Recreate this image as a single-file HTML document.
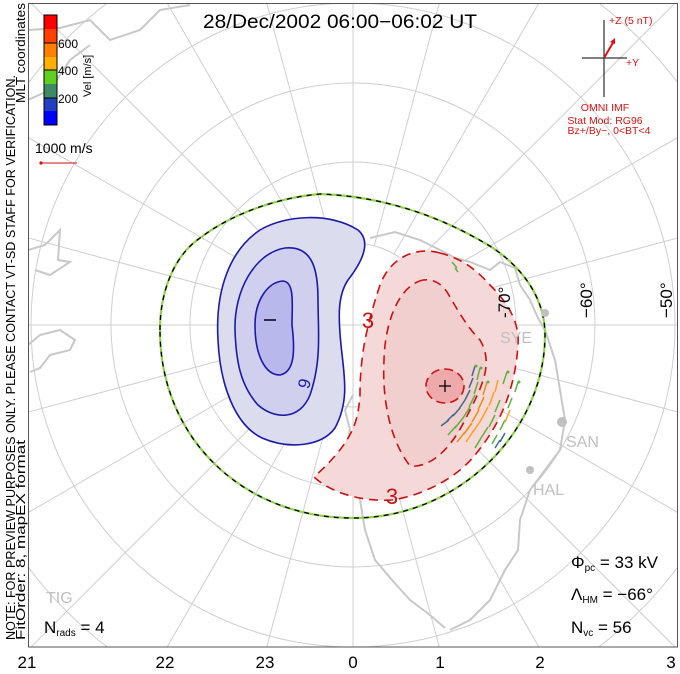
<!DOCTYPE html>
<html><head><meta charset="utf-8"><style>
html,body{margin:0;padding:0;background:#fff;overflow:hidden;width:680px;height:674px;}
svg{display:block;}
text{font-family:"Liberation Sans","DejaVu Sans",sans-serif;}
</style></head><body>
<svg width="680" height="674" viewBox="0 0 680 674" xmlns="http://www.w3.org/2000/svg">
<defs><clipPath id="c"><rect x="28" y="3" width="650" height="644"/></clipPath></defs>
<rect width="680" height="674" fill="#fff"/>
<g clip-path="url(#c)">
 <g stroke="#cfcfcf" stroke-width="1">
  <g transform="rotate(15 353 325)"><line x1="353" y1="-500" x2="353" y2="1150"/><line x1="-500" y1="325" x2="1200" y2="325"/></g>
  <g transform="rotate(30 353 325)"><line x1="353" y1="-500" x2="353" y2="1150"/><line x1="-500" y1="325" x2="1200" y2="325"/></g>
  <g transform="rotate(45 353 325)"><line x1="353" y1="-500" x2="353" y2="1150"/><line x1="-500" y1="325" x2="1200" y2="325"/></g>
  <g transform="rotate(60 353 325)"><line x1="353" y1="-500" x2="353" y2="1150"/><line x1="-500" y1="325" x2="1200" y2="325"/></g>
  <g transform="rotate(75 353 325)"><line x1="353" y1="-500" x2="353" y2="1150"/><line x1="-500" y1="325" x2="1200" y2="325"/></g>
 </g>
 <circle cx="353" cy="325" r="82" fill="#fff"/>
 <g stroke="#cfcfcf" stroke-width="1">
  <line x1="353" y1="-500" x2="353" y2="1150"/>
  <line x1="-500" y1="325" x2="1200" y2="325"/>
 </g>
 <g fill="none" stroke="#cfcfcf" stroke-width="1">
  <circle cx="353" cy="325" r="82"/>
  <circle cx="353" cy="325" r="163"/>
  <circle cx="353" cy="325" r="242"/>
  <circle cx="353" cy="325" r="322"/>
  <circle cx="353" cy="325" r="405"/>
 </g>
 <g fill="none" stroke="#c8c8c8" stroke-width="2">
  <path d="M28,30 L60,28 L90,20 L110,40 L140,30 L160,10 L190,5"/>
  <path d="M28,250 L45,245 L60,230 L58,260 L70,262 L50,275 L35,270"/>
  <path d="M28,100 L50,90 L70,60 L90,45"/>
  <path d="M370,238 L395,232 L420,240 L440,250 L455,258 L470,262 L490,270 L500,262 L515,268 L520,285 L530,300 L538,318 L545,330 L555,360 L560,390 L565,420 L560,450 L545,470 L530,490 L520,520 L518,550 L505,570 L490,600 L470,620 L450,630"/>
  <path d="M353,395 L345,410 L350,430 L345,450 L352,480 L360,500 L365,530 L375,560 L392,580 L410,600 L430,615 L445,628"/>
  <path d="M28,345 L40,335 L60,330 L75,340 L70,350 L50,355 L40,368 L30,372"/>
 </g>
 <path d="M160,330 C160,290 175,255 200,238 C230,215 275,198 320,194 C380,196 440,215 493,248 C525,270 545,300 545,335 C545,430 460,518 353,518 C245,518 160,440 160,330 Z" fill="none" stroke="#8fd44a" stroke-width="2.2"/>
 <path d="M160,330 C160,290 175,255 200,238 C230,215 275,198 320,194 C380,196 440,215 493,248 C525,270 545,300 545,335 C545,430 460,518 353,518 C245,518 160,440 160,330 Z" fill="none" stroke="#000" stroke-width="1.3" stroke-dasharray="5 5"/>
 <path d="M218,340 C215,290 230,250 260,230 C285,215 330,212 358,230 C372,242 362,262 348,280 C338,295 338,315 341,345 C344,375 350,400 335,428 C322,446 290,450 262,438 C235,425 220,385 218,340 Z" fill="#dcdcef" stroke="#1a1aaa" stroke-width="1.6"/>
 <path d="M235,330 C234,290 255,253 285,248 C315,245 318,275 318,300 C318,330 322,360 310,395 C300,420 275,420 258,405 C240,385 236,360 235,330 Z" fill="#d0d0ee" stroke="#1a1aaa" stroke-width="1.6"/>
 <path d="M255,325 C255,300 268,282 283,281 C295,282 292,305 292,325 C295,350 295,372 280,375 C265,375 255,355 255,325 Z" fill="#b8b8ec" stroke="#1a1aaa" stroke-width="1.6"/>
 <line x1="264" y1="320" x2="276" y2="320" stroke="#000" stroke-width="1.5"/>
 <text x="310" y="385" font-size="17" fill="#1a1aaa" transform="rotate(-75 310 385)" text-anchor="middle">9</text>
 <path d="M440,253 C415,246 390,258 380,285 C365,330 360,360 360,395 C358,420 355,440 314,477 C330,492 360,502 392,500 C420,496 455,480 475,455 C500,425 515,390 518,345 C520,320 505,300 490,285 C475,268 460,258 440,253 Z" fill="#f5d8d8" stroke="#cc1111" stroke-width="1.6" stroke-dasharray="9 6"/>
 <path d="M423,280 C400,285 385,320 384,360 C382,400 390,440 410,466 C430,468 450,450 465,420 C480,390 495,365 480,340 C465,325 455,305 447,292 C440,282 432,279 423,280 Z" fill="#f2cfcf" stroke="#cc1111" stroke-width="1.6" stroke-dasharray="9 6"/>
 <ellipse cx="445" cy="386" rx="19" ry="17" fill="#eeaaaa" stroke="#cc1111" stroke-width="1.6" stroke-dasharray="9 5"/>
 <path d="M439,386 h12 M445,380 v12" stroke="#000" stroke-width="1.3"/>
 <text x="368" y="328" font-size="22" fill="#cc1111" text-anchor="middle">3</text>
 <text x="392" y="504" font-size="22" fill="#cc1111" text-anchor="middle">3</text>
 <g stroke-width="1.5" fill="none">
  <path d="M475,366 l-3,10 M473,378 l-4,10 M470,390 l-5,10 M465,400 l-6,9 M460,408 l-7,8 M454,414 l-7,7 M449,420 l-8,6" stroke="#3a6a90"/>
  <path d="M480,368 l-3,12 M478,382 l-4,12 M475,395 l-6,12 M470,407 l-7,11 M463,418 l-8,10 M456,426 l-8,9" stroke="#60b040"/>
  <path d="M487,382 l-4,13 M484,397 l-6,13 M479,410 l-7,12 M472,423 l-8,11 M465,432 l-8,10" stroke="#e89010"/>
  <path d="M494,392 l-5,14 M488,407 l-7,13 M481,420 l-8,12 M474,430 l-8,12" stroke="#ffa020"/>
  <path d="M507,372 l-4,12 M500,400 l-5,12 M495,415 l-6,12 M488,427 l-7,11 M481,438 l-6,10" stroke="#60b040"/>
  <path d="M518,382 l-3,10 M512,398 l-4,10 M505,420 l-5,10 M497,435 l-5,9" stroke="#60b040"/>
  <path d="M505,433 l-5,9 M500,440 l-5,8" stroke="#3a6a90"/>
  <path d="M498,380 l-3,12 M510,410 l-5,12" stroke="#ffa020"/>
  <path d="M452,262 l5,6 M455,268 l3,4" stroke="#60b040"/>
 </g>
 <g fill="#60b040"><circle cx="476" cy="366" r="1.5"/><circle cx="481" cy="368" r="1.5"/><circle cx="488" cy="382" r="1.5"/><circle cx="508" cy="372" r="1.5"/><circle cx="519" cy="382" r="1.5"/></g>
 <g fill="#c0c0c0" font-size="16">
  <text x="500" y="343">SYE</text>
  <text x="566" y="447">SAN</text>
  <text x="533" y="495">HAL</text>
  <text x="46" y="603">TIG</text>
  <circle cx="545" cy="313" r="4"/><circle cx="562" cy="422" r="5"/><circle cx="530" cy="470" r="4"/>
 </g>
 <g font-size="17" fill="#000">
  <text transform="translate(510,318) rotate(-90)">-70°</text>
  <text transform="translate(592,318) rotate(-90)">−60°</text>
  <text transform="translate(672,318) rotate(-90)">−50°</text>
 </g>
</g>
<rect x="28.5" y="3.5" width="649" height="643.5" fill="none" stroke="#555" stroke-width="1"/>
<text x="340" y="28" font-size="19" text-anchor="middle" fill="#000" textLength="274" lengthAdjust="spacingAndGlyphs">28/Dec/2002 06:00−06:02 UT</text>
<g>
 <rect x="44" y="15" width="13" height="14" fill="#ff0000"/>
 <rect x="44" y="29" width="13" height="14" fill="#ff4000"/>
 <rect x="44" y="43" width="13" height="14" fill="#ff8000"/>
 <rect x="44" y="57" width="13" height="13" fill="#ffb000"/>
 <rect x="44" y="70" width="13" height="14" fill="#60d020"/>
 <rect x="44" y="84" width="13" height="14" fill="#3f8a66"/>
 <rect x="44" y="98" width="13" height="13" fill="#2040c0"/>
 <rect x="44" y="111" width="13" height="14" fill="#0000ff"/>
 <rect x="44" y="15" width="13" height="110" fill="none" stroke="#000" stroke-width="1"/>
 <path d="M44,43 h13 M44,70 h13 M44,98 h13" stroke="#000"/>
 <g font-size="12" fill="#000"><text x="58" y="48">600</text><text x="58" y="75">400</text><text x="58" y="103">200</text></g>
 <text transform="translate(91,97) rotate(-90)" font-size="11">Vel [m/s]</text>
</g>
<text transform="translate(15,640) rotate(-90)" font-size="12.5" textLength="565" lengthAdjust="spacingAndGlyphs">NOTE: FOR PREVIEW PURPOSES ONLY. PLEASE CONTACT VT-SD STAFF FOR VERIFICATION.</text>
<text transform="translate(25,640) rotate(-90)" font-size="12.5" textLength="200" lengthAdjust="spacingAndGlyphs">FitOrder: 8, mapEX format</text>
<text transform="translate(25,103) rotate(-90)" font-size="12.5" textLength="100" lengthAdjust="spacingAndGlyphs">MLT coordinates</text>
<text x="35" y="153" font-size="14">1000 m/s</text>
<line x1="41" y1="163" x2="77" y2="163" stroke="#cc1111" stroke-width="1"/>
<circle cx="41" cy="163" r="1.6" fill="#cc1111"/>
<g>
 <line x1="604" y1="20" x2="604" y2="97" stroke="#000"/>
 <line x1="582" y1="58" x2="627" y2="58" stroke="#000"/>
 <line x1="604" y1="58" x2="614" y2="41" stroke="#dd1111" stroke-width="2"/>
 <path d="M615,38 l-5,4 l5,2z" fill="#dd1111"/>
 <g fill="#dd1111" font-size="10.5">
  <text x="609" y="24">+Z (5 nT)</text>
  <text x="626" y="66">+Y</text>
  <text x="605" y="111" text-anchor="middle">OMNI IMF</text>
  <text x="605" y="124" text-anchor="middle">Stat Mod: RG96</text>
  <text x="609" y="134" text-anchor="middle">Bz+/By−, 0&lt;BT&lt;4</text>
 </g>
</g>
<g font-size="17" fill="#000">
 <text x="571" y="568">Φ<tspan font-size="10" dy="3">pc</tspan><tspan dy="-3"> = 33 kV</tspan></text>
 <text x="571" y="600">Λ<tspan font-size="10" dy="3">HM</tspan><tspan dy="-3"> = −66°</tspan></text>
 <text x="571" y="633">N<tspan font-size="10" dy="3">vc</tspan><tspan dy="-3"> = 56</tspan></text>
 <text x="44" y="633">N<tspan font-size="10" dy="3">rads</tspan><tspan dy="-3"> = 4</tspan></text>
</g>
<g font-size="17" fill="#000" text-anchor="middle">
 <text x="27" y="668">21</text><text x="165" y="668">22</text><text x="265" y="668">23</text>
 <text x="353" y="668">0</text><text x="440" y="668">1</text><text x="540" y="668">2</text><text x="671" y="668">3</text>
</g>
</svg>
</body></html>
